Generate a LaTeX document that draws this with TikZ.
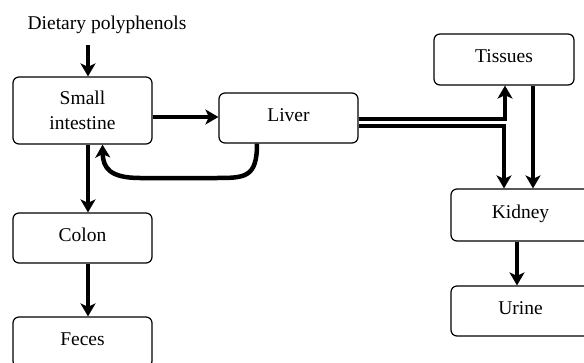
\documentclass[tikz,border=0pt]{standalone}
\usepackage{fontspec}
\setmainfont{Liberation Serif}
\usetikzlibrary{arrows.meta}
\tikzset{
  box/.style={draw, rounded corners=6pt, line width=1.2pt, minimum width=139pt,
    minimum height=50pt, inner sep=0pt, align=center},
  lbox/.style={box, text height=14pt, text depth=8pt},
  arr/.style={line width=4.5pt, -{Stealth[length=13pt,width=15pt,inset=3.5pt]}},
}
\begin{document}
\begin{tikzpicture}[x=1pt,y=-1pt,font=\fontsize{19.5}{25}\selectfont]
\useasboundingbox (0,0) rectangle (584,362);
\clip (0,0) rectangle (584,362);
\node (diet) at (107,25) {Dietary polyphenols};
\coordinate (dietout) at (88,45);
\node[box, minimum height=67pt] (si) at (82.5,110.5) {Small\\intestine};
\node[lbox] (liver) at (288.5,118) {Liver};
\node[lbox] (colon) at (82.5,238) {Colon};
\node[lbox] (feces) at (82.5,342) {Feces};
\node[lbox, minimum width=140pt, minimum height=51pt] (tissues) at (504,59.5) {Tissues};
\node[lbox, minimum height=52pt] (kidney) at (520.5,215) {Kidney};
\node[lbox] (urine) at (520.5,311) {Urine};

\draw[arr] (dietout) -- (dietout |- si.north);
\draw[arr] ([yshift=-6.5pt]si.east) -- ([yshift=-6.5pt]si.east -| liver.west);
\draw[arr] ([xshift=5.5pt]si.south) -- ([xshift=5.5pt]si.south |- colon.north);
\draw[arr] ([xshift=5.5pt]colon.south) -- ([xshift=5.5pt]colon.south |- feces.north);
\draw[arr] ([xshift=-31.5pt]liver.south) .. controls (257,178) and (245,178) .. (215,178)
  -- (140,178) .. controls (110,178) and (103,168) .. ([xshift=20pt]si.south);
\draw[arr] ([yshift=-1pt]liver.east) -| ([xshift=1pt]tissues.south);
\draw[arr] ([yshift=-8pt]liver.east) -| ([xshift=-16.5pt]kidney.north);
\draw[arr] ([xshift=29pt]tissues.south) -- ([xshift=29pt]tissues.south |- kidney.north);
\draw[arr] ([xshift=-3.5pt]kidney.south) -- ([xshift=-3.5pt]kidney.south |- urine.north);
\end{tikzpicture}
\end{document}
